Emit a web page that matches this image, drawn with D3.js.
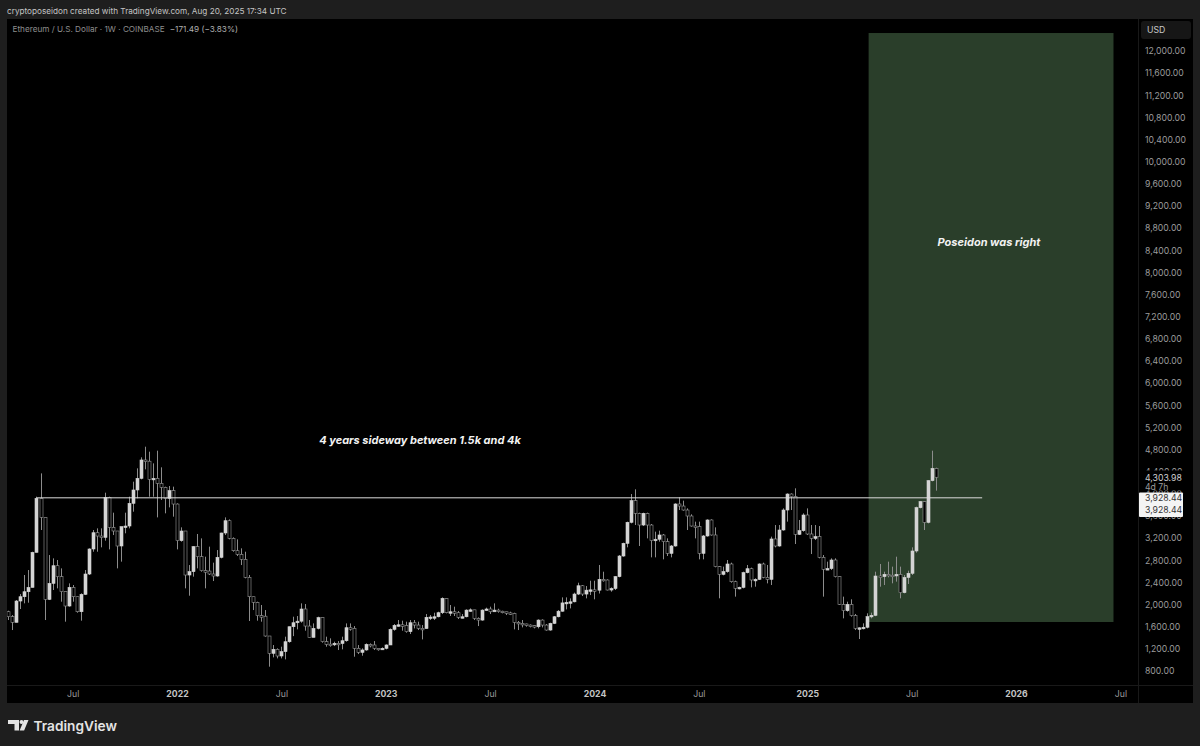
<!DOCTYPE html>
<html>
<head>
<meta charset="utf-8">
<script src="https://cdn.jsdelivr.net/npm/d3@7"></script>
<style>
  html, body { margin: 0; padding: 0; background: #1e1e1e; overflow: hidden; }
  svg { display: block; font-family: Inter, "Noto Sans", sans-serif; }
</style>
</head>
<body>
<svg id="chart"></svg>
<script>
const width = 1200;
const height = 746;

// weekly ETHUSD candles, first one is the week of 2021-03-15
const firstWeek = new Date(Date.UTC(2021, 2, 15));

const opens = [
  1871,1781,1679,2064,2142,2232,2310,2943,3919,3575,
  2094,2383,2702,2504,2233,1974,2311,2142,1871,2185,
  2552,3004,3298,3238,3214,3937,3395,3329,3058,3407,
  3419,3829,4070,4280,4612,4590,4262,4280,4190,4118,
  3919,4058,3816,3154,3329,2534,2594,3046,2865,2612,
  2606,2552,2516,2853,3293,3515,3196,2973,2908,2817,
  2492,2142,2040,1799,1790,1432,1119,1191,1071,1149,
  1329,1600,1672,1700,1920,1612,1408,1570,1763,1330,
  1285,1278,1300,1296,1347,1582,1570,1210,1137,1180,
  1280,1270,1210,1200,1210,1270,1552,1625,1635,1625,
  1510,1672,1630,1570,1566,1770,1775,1780,1853,2112,
  1853,1870,1853,1770,1780,1900,1905,1750,1720,1900,
  1920,1870,1900,1880,1870,1850,1840,1678,1660,1650,
  1630,1620,1600,1720,1630,1540,1660,1780,1880,2030,
  2040,2050,2190,2340,2190,2260,2266,2260,2456,2444,
  2263,2290,2504,2877,3106,3486,3877,3648,3437,3648,
  3437,3155,3180,3257,3136,2925,3058,3817,3780,3708,
  3600,3419,3410,2925,3239,3528,3257,2685,2546,2595,
  2733,2413,2293,2310,2576,2648,2444,2455,2733,2492,
  2455,3185,3058,3347,3708,3997,3949,3269,3335,3618,
  3275,3196,3227,2853,2636,2650,2805,2504,2004,1890,
  2004,1800,1570,1580,1590,1781,1805,2516,2505,2546,
  2530,2525,2545,2215,2490,2565,2968,3750,3860,3485,
  4238,4460
];
const highs = [
  1889,1811,2082,2190,2534,2624,2955,3949,4370,3575,
  2895,2835,2805,2654,2233,2383,2353,2142,2203,2624,
  3016,3347,3377,3377,4021,3949,3660,3329,3407,3660,
  3949,4220,4461,4660,4852,4762,4551,4780,4479,4130,
  4142,4130,3828,3395,3329,2714,3058,3275,3196,2865,
  3046,2757,2985,3298,3575,3539,3214,3178,3016,2955,
  2534,2142,2052,1992,1901,1432,1269,1209,1239,1420,
  1600,1781,1793,2022,2010,1721,1660,1781,1763,1420,
  1390,1329,1341,1420,1660,1660,1612,1269,1209,1299,
  1299,1341,1210,1227,1281,1570,1648,1721,1709,1691,
  1721,1721,1691,1630,1829,1811,1853,1871,2130,2118,
  1992,1962,1883,1829,1913,1931,1905,1769,1913,1944,
  1962,2022,1925,1889,1871,1871,1853,1703,1721,1655,
  1642,1630,1733,1733,1648,1672,1793,1901,2130,2130,
  2112,2215,2395,2353,2335,2431,2431,2715,2594,2456,
  2311,2516,2895,3118,3498,3997,4082,3660,3660,3660,
  3455,3317,3335,3275,3196,3076,3829,3937,3877,3738,
  3630,3498,3498,3257,3540,3540,3395,2697,2685,2805,
  2757,2432,2323,2594,2715,2667,2474,2745,2757,2715,
  3227,3437,3437,3738,4009,4009,4100,3528,3648,3738,
  3437,3437,3419,2895,2775,2835,2835,2510,2143,2052,
  2095,1830,1589,1661,1842,1854,2594,2733,2594,2775,
  2685,2865,2685,2534,2612,3034,3769,3871,3871,4250,
  4780,4473
];
const lows = [
  1721,1540,1679,1920,2022,2034,2310,2943,3347,1721,
  2082,2263,2293,2052,1691,1962,2052,1853,1709,2172,
  2534,2955,2955,3034,3154,2997,3256,2654,2775,3287,
  3377,3678,3919,4262,4443,3949,3949,3575,3889,3648,
  3756,3588,2997,3136,2293,2160,2504,2654,2594,2293,
  2534,2425,2504,2835,3256,3178,2955,2877,2714,2474,
  1703,1901,1709,1691,1420,878,1046,1028,1028,1010,
  1311,1430,1552,1672,1528,1408,1408,1552,1311,1239,
  1239,1251,1179,1191,1329,1528,1058,1106,1076,1167,
  1227,1179,1167,1179,1191,1269,1528,1600,1528,1492,
  1468,1570,1540,1371,1566,1721,1721,1769,1829,1841,
  1793,1793,1739,1751,1769,1871,1721,1612,1709,1889,
  1829,1871,1853,1841,1811,1811,1552,1540,1588,1600,
  1588,1570,1570,1588,1528,1528,1648,1769,1871,1913,
  1931,2040,2172,2154,2112,2172,2095,2200,2414,2255,
  2233,2263,2492,2865,3034,3467,3437,3058,3419,3196,
  2853,2853,3136,2817,2877,2853,3046,3708,3696,3347,
  3407,3196,2817,2817,3227,3245,2673,2113,2528,2576,
  2395,2143,2275,2293,2564,2311,2323,2444,2474,2383,
  2353,3034,3046,3335,3498,3708,3094,3257,3317,3257,
  2913,3166,2835,2143,2624,2624,2490,1992,1751,1872,
  1781,1540,1378,1552,1570,1751,1790,2323,2353,2492,
  2384,2414,2113,2203,2372,2534,2937,3738,3347,3467,
  4226,4058
];
const closes = [
  1781,1679,2064,2142,2232,2310,2943,3919,3575,2094,
  2383,2702,2504,2233,1974,2311,2142,1871,2185,2552,
  3004,3298,3238,3214,3937,3395,3329,3058,3407,3419,
  3829,4070,4280,4612,4590,4262,4280,4190,4118,3919,
  4058,3816,3154,3329,2534,2594,3046,2865,2612,2606,
  2552,2516,2853,3293,3515,3196,2973,2908,2817,2492,
  2142,2040,1799,1790,1432,1119,1191,1071,1149,1329,
  1600,1672,1700,1920,1612,1408,1570,1763,1330,1281,
  1278,1300,1296,1347,1582,1570,1210,1137,1180,1280,
  1270,1210,1200,1210,1270,1552,1625,1635,1625,1510,
  1672,1630,1570,1566,1770,1775,1780,1853,2112,1853,
  1870,1853,1770,1780,1900,1905,1750,1720,1900,1920,
  1870,1900,1880,1870,1850,1840,1678,1660,1650,1630,
  1620,1600,1720,1630,1540,1660,1780,1880,2030,2040,
  2050,2190,2340,2190,2260,2266,2260,2456,2444,2263,
  2290,2504,2877,3106,3486,3877,3648,3437,3648,3437,
  3155,3180,3257,3136,2925,3058,3817,3780,3708,3600,
  3419,3410,2925,3239,3528,3257,2685,2546,2595,2733,
  2413,2293,2310,2576,2648,2444,2455,2733,2492,2455,
  3185,3058,3347,3708,3997,3949,3269,3335,3618,3275,
  3196,3227,2853,2636,2650,2805,2504,2004,1890,2004,
  1800,1570,1580,1590,1781,1805,2516,2505,2546,2530,
  2525,2545,2215,2490,2565,2968,3750,3860,3485,4238,
  4460,4300
];

const priceTicks = [800,1200,1600,2000,2400,2800,3200,3600,4000,4400,4800,5200,5600,6000,6400,6800,7200,7600,8000,8400,8800,9200,9600,10000,10400,10800,11200,11600,12000];
const yearTicks = ["2022-01-03","2023-01-02","2024-01-01","2025-01-06","2026-01-05"];
const monthTicks = ["2021-07-05","2022-07-04","2023-07-03","2024-07-01","2025-07-07","2026-07-06"];

const levelPrice = 3928.44;
const lastPrice = 4303.98;
const levelStart = "2021-05-03";
const levelEnd = "2025-11-07";
const boxStart = "2025-04-23";
const boxEnd = "2026-06-24";
const boxTop = 12325;
const boxBottom = 1685;

const x = d3.scaleUtc()
  .domain([new Date("2022-01-03"), new Date("2026-01-05")])
  .range([177, 1016]);
const y = d3.scaleLinear()
  .domain([800, 12000])
  .range([671, 51]);

const candles = closes.map((c, i) => ({
  date: d3.utcMonday.offset(firstWeek, i),
  open: opens[i], high: highs[i], low: lows[i], close: c
}));

const axisFont = 8.7;

const svg = d3.select("#chart").attr("width", width).attr("height", height);

svg.append("rect").attr("width", width).attr("height", height).attr("fill", "#1e1e1e");
svg.append("rect").attr("x", 7).attr("y", 19).attr("width", 1186).attr("height", 684).attr("fill", "#000");

svg.append("clipPath").attr("id", "plot")
  .append("rect").attr("x", 7).attr("y", 19).attr("width", 1131).attr("height", 666);

// pane separators
svg.append("line").attr("x1", 1138.5).attr("x2", 1138.5).attr("y1", 19).attr("y2", 703).attr("stroke", "#191919");
svg.append("line").attr("x1", 7).attr("x2", 1193).attr("y1", 685.5).attr("y2", 685.5).attr("stroke", "#191919");

const pane = svg.append("g").attr("clip-path", "url(#plot)");

// green target box
pane.append("rect")
  .attr("x", x(new Date(boxStart)))
  .attr("y", y(boxTop))
  .attr("width", x(new Date(boxEnd)) - x(new Date(boxStart)))
  .attr("height", y(boxBottom) - y(boxTop))
  .attr("fill", "#2a3e2a");

// wicks
pane.append("g").selectAll("line")
  .data(candles)
  .enter()
  .append("line")
  .attr("x1", d => Math.round(x(d.date)) + 0.5)
  .attr("x2", d => Math.round(x(d.date)) + 0.5)
  .attr("y1", d => y(d.high))
  .attr("y2", d => y(d.low))
  .attr("stroke", "#8c8c8c")
  .attr("stroke-width", 1);

// bodies, up weeks filled and down weeks hollow
pane.append("g").selectAll("rect")
  .data(candles)
  .enter()
  .append("rect")
  .attr("x", d => Math.round(x(d.date)) - 1)
  .attr("width", 3)
  .attr("y", d => y(Math.max(d.open, d.close)))
  .attr("height", d => Math.max(1.5, Math.abs(y(d.open) - y(d.close))))
  .attr("fill", d => d.close >= d.open ? "#d4d4d4" : "#000")
  .attr("stroke", d => d.close >= d.open ? "#d4d4d4" : "#9a9a9a")
  .attr("stroke-width", 0.6);

// horizontal level
pane.append("line")
  .attr("x1", x(new Date(levelStart)))
  .attr("x2", x(new Date(levelEnd)))
  .attr("y1", y(levelPrice))
  .attr("y2", y(levelPrice))
  .attr("stroke", "#dcdcdc")
  .attr("stroke-width", 1);

// notes
svg.append("text").attr("x", 989).attr("y", 246).attr("text-anchor", "middle")
  .attr("fill", "#f2f2f2").attr("font-size", 11).attr("font-weight", 700).attr("font-style", "italic")
  .text("Poseidon was right");
svg.append("text").attr("x", 420).attr("y", 444).attr("text-anchor", "middle")
  .attr("fill", "#f2f2f2").attr("font-size", 11).attr("font-weight", 700).attr("font-style", "italic")
  .text("4 years sideway between 1.5k and 4k");

// price axis
const yAxis = d3.axisRight(y)
  .tickValues(priceTicks)
  .tickSize(0)
  .tickPadding(0)
  .tickFormat(d3.format(",.2f"));
const yAxisG = svg.append("g").attr("transform", "translate(1145,0)").call(yAxis);
yAxisG.select(".domain").remove();
yAxisG.selectAll("text").attr("fill", "#9c9c9c").attr("font-size", axisFont).attr("font-family", "Inter");

// time axis
const xMonths = d3.axisBottom(x)
  .tickValues(monthTicks.map(d => new Date(d)))
  .tickSize(0)
  .tickPadding(0)
  .tickFormat(d3.utcFormat("%b"));
const xMonthsG = svg.append("g").attr("transform", "translate(0,691)").call(xMonths);
xMonthsG.select(".domain").remove();
xMonthsG.selectAll("text").attr("fill", "#9c9c9c").attr("font-size", axisFont).attr("font-family", "Inter");

const xYears = d3.axisBottom(x)
  .tickValues(yearTicks.map(d => new Date(d)))
  .tickSize(0)
  .tickPadding(0)
  .tickFormat(d3.utcFormat("%Y"));
const xYearsG = svg.append("g").attr("transform", "translate(0,691)").call(xYears);
xYearsG.select(".domain").remove();
xYearsG.selectAll("text").attr("fill", "#c4c4c4").attr("font-size", axisFont).attr("font-weight", 700).attr("font-family", "Inter");

// price scale labels
const labels = svg.append("g").attr("font-size", axisFont);
labels.append("rect").attr("x", 1139).attr("y", y(lastPrice) - 6.5).attr("width", 53).attr("height", 20).attr("fill", "#000");
labels.append("text").attr("x", 1145).attr("y", y(lastPrice) + 3.5).attr("fill", "#d0d0d0").text(d3.format(",.2f")(lastPrice));
labels.append("text").attr("x", 1145).attr("y", y(lastPrice) + 12.5).attr("fill", "#9c9c9c").text("4d 7h");
labels.append("rect").attr("x", 1139).attr("y", 492.5).attr("width", 44).attr("height", 24.5).attr("rx", 1).attr("fill", "#f4f4f4");
labels.append("text").attr("x", 1145).attr("y", y(levelPrice) + 3).attr("fill", "#333").text(d3.format(",.2f")(levelPrice));
labels.append("text").attr("x", 1145).attr("y", y(levelPrice) + 15).attr("fill", "#333").text(d3.format(",.2f")(levelPrice));

// USD button
svg.append("rect").attr("x", 1141).attr("y", 21).attr("width", 50).attr("height", 18).attr("rx", 3).attr("fill", "#161616");
svg.append("text").attr("x", 1147).attr("y", 33).attr("fill", "#c8c8c8").attr("font-size", axisFont).text("USD");

// header
svg.append("text").attr("x", 7).attr("y", 14).attr("fill", "#c4c4c4").attr("font-size", 8.2)
  .text("cryptoposeidon created with TradingView.com, Aug 20, 2025 17:34 UTC");
const legend = svg.append("text").attr("x", 12.5).attr("y", 32).attr("font-size", 8.2).attr("fill", "#8e8e8e");
legend.append("tspan").text("Ethereum / U.S. Dollar · 1W · COINBASE");
legend.append("tspan").attr("dx", 5).attr("fill", "#b0b0b0").text("−171.49 (−3.83%)");

// TradingView logo
const logo = svg.append("g").attr("fill", "#e4e4e4");
logo.append("path").attr("d", "M8 720h11v10.5h-4.5v-6.5h-6.5z");
logo.append("circle").attr("cx", 21.5).attr("cy", 722).attr("r", 2);
logo.append("path").attr("d", "M24 720h4.5l-4.4 10.5h-4.5z");
svg.append("text").attr("x", 33.5).attr("y", 730.5).attr("fill", "#e4e4e4")
  .attr("font-size", 13.7).attr("font-weight", 600).text("TradingView");
</script>
</body>
</html>
